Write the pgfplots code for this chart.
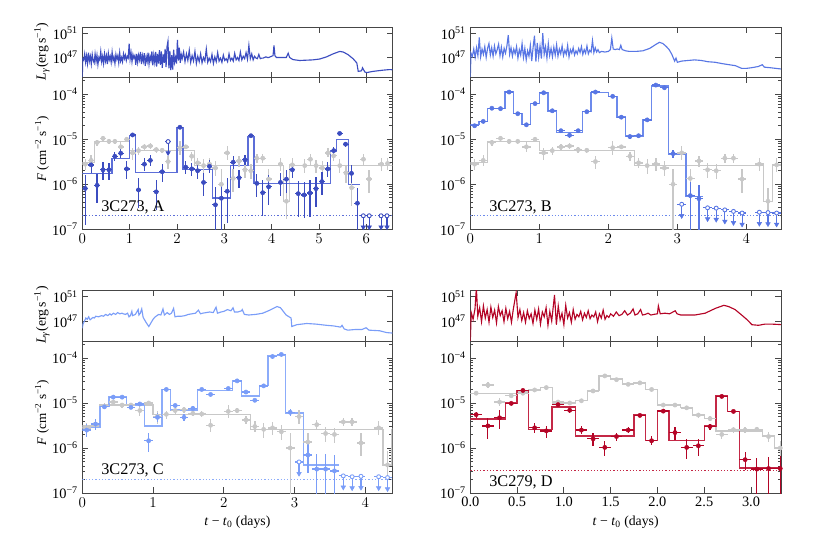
\documentclass[border=0pt]{standalone}
\usepackage{fontspec}
\setmainfont{Liberation Serif}
\usepackage{pgfplots}
\pgfplotsset{compat=1.18}
\usepackage{pgfplotstable}

\definecolor{cA}{RGB}{59,76,192}
\definecolor{cB}{RGB}{88,118,228}
\definecolor{cC}{RGB}{122,157,248}
\definecolor{cD}{RGB}{180,4,38}
\definecolor{sA}{RGB}{92,110,216}
\definecolor{sB}{RGB}{108,138,236}
\definecolor{sC}{RGB}{140,172,250}
\definecolor{sD}{RGB}{196,40,70}
\definecolor{cg}{RGB}{200,200,200}
\definecolor{fr}{RGB}{70,70,70}

\pgfplotstableread{
t F l h
0.0625 2.8e-6 0.25 0.3
0.1875 3.4e-6 0.25 0.3
0.3125 8.5e-6 0.15 0.15
0.4375 1.05e-5 0.12 0.12
0.5625 9.0e-6 0.12 0.12
0.6875 9.0e-6 0.12 0.12
0.8125 6.8e-6 0.25 0.3
0.9375 1.0e-5 0.12 0.12
1.0625 5.0e-6 0.3 0.3
1.1875 5.6e-6 0.2 0.2
1.3125 6.8e-6 0.15 0.15
1.4375 7.1e-6 0.15 0.15
1.5625 5.9e-6 0.15 0.15
1.6875 5.7e-6 0.15 0.15
1.8125 3.2e-6 0.3 0.35
2.0625 6.5e-6 0.3 0.4
2.1875 6.8e-6 0.12 0.12
2.3125 4.2e-6 0.2 0.25
2.4375 3.0e-6 0.25 0.3
2.5625 2.6e-6 0.35 0.4
2.6875 2.8e-6 0.3 0.35
2.8125 2.3e-6 0.35 0.4
2.9375 1.0e-6 0.97 1.2
3.0625 5.0e-6 0.3 0.4
3.1875 1.35e-6 0.5 0.6
3.3125 3.3e-6 0.25 0.3
3.4375 2.1e-6 0.35 0.4
3.5625 2.0e-6 0.35 0.4
3.6875 3.8e-6 0.2 0.25
3.8125 3.8e-6 0.2 0.25
3.9375 1.3e-6 0.5 0.7
4.1875 2.8e-6 0.3 0.4
4.3125 4.2e-7 0.6 1.0
4.4375 2.7e-6 0.3 0.4
}\grayQ
\pgfplotstableread{
t F l h
4.70 2.6e-6 0.3 0.4
4.82 3.6e-6 0.25 0.3
4.94 2.6e-6 0.3 0.35
5.07 2.3e-6 0.35 0.4
5.19 5.0e-6 0.2 0.25
5.31 4.3e-6 0.25 0.3
5.44 2.6e-6 0.3 0.4
5.57 1.8e-6 0.4 0.5
5.69 8.4e-7 0.6 0.8
5.94 3.6e-6 0.25 0.3
6.06 1.3e-6 0.5 0.6
6.32 2.8e-6 0.3 0.35
6.45 2.9e-6 0.3 0.35
}\grayQext
\pgfplotstableread{
t F
0 3.1e-6
0.25 9.0e-6
1.0 5.6e-6
2.375 2.6e-6
4.25 4.2e-7
4.375 2.6e-6
6.6 2.6e-6
}\grayQstep

\pgfplotstableread{
t F l h
0.0625 8.1e-7 0.85 1.0
0.1875 2.7e-6 0.35 0.4
0.3125 9.5e-7 0.6 0.8
0.4375 2.1e-6 0.4 0.5
0.5625 2.1e-6 0.4 0.45
0.6875 4.2e-6 0.2 0.25
0.8125 4.9e-6 0.2 0.25
0.9375 2.2e-6 0.4 0.5
1.0625 1.25e-5 0.1 0.1
1.1875 7.5e-7 0.6 0.8
1.3125 2.8e-6 0.3 0.35
1.4375 3.4e-6 0.25 0.3
1.5625 6.8e-7 0.6 0.8
1.6875 1.9e-6 0.4 0.5
2.0625 1.85e-5 0.08 0.08
2.1875 2.4e-6 0.3 0.35
2.3125 2.2e-6 0.3 0.35
2.4375 2.0e-6 0.35 0.4
2.5625 1.1e-6 0.5 0.6
2.6875 2.5e-6 0.3 0.4
2.8125 3.5e-7 0.9 1.5
2.9375 4.9e-7 0.9 1.2
3.0625 7.0e-7 0.8 1.0
3.1875 3.1e-6 0.3 0.35
3.3125 1.4e-6 0.4 0.5
3.4375 3.5e-6 0.25 0.3
3.5625 1.2e-5 0.08 0.08
3.6875 1.05e-6 0.5 0.6
3.8125 6.5e-7 0.7 0.9
3.9375 8.8e-7 0.6 0.8
4.1875 1.1e-6 0.5 0.6
4.3125 1.3e-6 0.5 0.6
4.4375 2.1e-6 0.35 0.4
4.5625 6.2e-7 0.7 0.9
4.6875 5.8e-7 0.7 0.9
4.8125 6.4e-7 0.7 0.9
4.9375 8.0e-7 0.6 0.8
5.0625 1.15e-6 0.5 0.6
5.1875 2.2e-6 0.35 0.4
5.3125 5.6e-6 0.2 0.2
5.4375 1.35e-5 0.08 0.08
5.5625 7.8e-6 0.12 0.12
5.6875 1.75e-6 0.4 0.5
5.8125 3.8e-7 0.9 1.2
}\ptsA
\pgfplotstableread{
t F a
1.8125 8.9e-6 5.0e-6
5.9375 2.0e-7 1.12e-7
6.0625 2.0e-7 1.12e-7
6.3125 2.0e-7 1.12e-7
6.4375 2.0e-7 1.12e-7
}\ulA
\pgfplotstableread{
t F
0 1.75e-6
0.625 3.7e-6
1.0 1.2e-5
1.125 1.85e-6
2.0 1.85e-5
2.125 2.1e-6
2.75 5.0e-7
3.125 2.6e-6
3.5 1.15e-5
3.625 1.03e-6
5.25 5.5e-6
5.375 1.0e-5
5.625 1.0e-6
5.875 1.0e-6
}\stepA
\pgfplotstableread{
t L
0.000 43.7
0.010 46.8
0.030 46.6
0.050 47.6
0.070 46.2
0.090 47.3
0.110 46.0
0.130 47.8
0.150 46.4
0.170 47.2
0.190 45.9
0.210 47.5
0.230 46.5
0.250 46.1
0.270 47.6
0.290 46.3
0.310 47.4
0.330 45.8
0.350 47.0
0.370 46.6
0.390 48.0
0.410 46.3
0.430 47.2
0.450 46.0
0.470 47.6
0.490 46.4
0.510 47.3
0.530 45.9
0.550 47.7
0.570 46.6
0.590 47.2
0.610 46.2
0.630 47.9
0.650 46.5
0.670 47.1
0.690 46.0
0.710 47.5
0.730 46.7
0.750 47.3
0.770 46.1
0.790 47.8
0.810 46.4
0.830 47.0
0.850 46.3
0.870 47.6
0.890 46.8
0.910 47.4
0.930 46.5
0.950 47.2
0.970 46.9
0.990 49.3
1.010 46.7
1.030 47.8
1.050 46.3
1.070 47.5
1.090 46.9
1.110 47.3
1.130 45.8
1.150 47.6
1.170 46.2
1.190 47.4
1.210 46.6
1.230 47.9
1.250 45.9
1.270 47.3
1.290 46.4
1.310 47.7
1.330 45.6
1.350 47.1
1.370 46.3
1.390 47.8
1.410 45.9
1.430 47.2
1.450 46.5
1.470 48.0
1.490 45.7
1.510 47.4
1.530 46.2
1.550 47.9
1.570 45.5
1.590 47.6
1.610 46.0
1.630 48.2
1.650 45.8
1.670 48.0
1.690 45.3
1.710 47.5
1.730 46.1
1.750 48.4
1.770 45.4
1.790 48.8
1.810 49.7
1.830 45.2
1.850 48.1
1.870 44.9
1.890 47.4
1.910 45.0
1.930 48.3
1.950 46.2
1.970 47.0
1.990 46.0
2.010 49.9
2.030 46.5
2.050 48.6
2.070 46.1
2.090 47.5
2.11 46.8
2.14 47.9
2.17 46.3
2.20 47.6
2.23 46.5
2.26 48.2
2.29 46.2
2.32 47.3
2.35 46.4
2.38 48.0
2.41 46.0
2.44 47.2
2.47 46.3
2.50 47.6
2.53 46.1
2.56 47.0
2.59 46.4
2.62 48.4
2.65 46.2
2.68 46.9
2.71 46.3
2.74 47.5
2.77 46.0
2.80 47.1
2.83 46.3
2.86 47.8
2.89 46.4
2.92 46.9
2.95 46.2
2.98 47.4
3.01 46.5
3.04 46.8
3.07 46.3
3.10 47.6
3.13 46.5
3.16 46.9
3.19 46.4
3.22 47.7
3.25 46.6
3.28 47.0
3.31 46.5
3.34 47.9
3.37 46.6
3.40 47.2
3.43 46.8
3.46 47.8
3.49 46.7
3.52 49.0
3.55 46.8
3.58 47.6
3.61 46.6
3.64 47.2
3.67 46.9
3.70 46.8
3.73 47.5
3.76 46.8
3.79 46.9
3.82 46.9
3.85 47.0
3.88 47.1
3.91 47.0
3.94 47.0
3.97 47.1
4.00 47.2
4.03 47.3
4.05 49.0
4.07 47.3
4.10 47.0
4.31 47.0
4.35 47.7
4.38 47.0
4.45 46.65
4.59 46.5
4.87 46.6
5.02 46.75
5.16 47.1
5.30 47.6
5.44 48.0
5.51 47.9
5.61 47.5
5.72 46.8
5.80 46.1
5.83 44.7
5.90 44.8
5.92 45.3
5.97 44.6
6.01 44.5
6.14 44.7
6.35 44.9
6.49 45.0
6.60 44.95
}\LA

\pgfplotstableread{
t F l h
0.0625 2.0e-5 0.08 0.08
0.1875 2.5e-5 0.08 0.08
0.3125 4.9e-5 0.06 0.06
0.4375 4.8e-5 0.06 0.06
0.5625 1.12e-4 0.05 0.05
0.6875 3.7e-5 0.07 0.07
0.8125 2.1e-5 0.08 0.08
0.9375 6.2e-5 0.06 0.06
1.0625 1.08e-4 0.05 0.05
1.1875 4.3e-5 0.07 0.07
1.3125 1.55e-5 0.1 0.1
1.4375 1.23e-5 0.12 0.12
1.5625 1.55e-5 0.1 0.1
1.6875 4.1e-5 0.07 0.07
1.8125 1.12e-4 0.05 0.05
2.0625 9.0e-5 0.05 0.05
2.1875 3.1e-5 0.07 0.07
2.3125 1.15e-5 0.1 0.1
2.4375 1.2e-5 0.1 0.1
2.5625 2.7e-5 0.08 0.08
2.6875 1.6e-4 0.05 0.05
2.8125 1.4e-4 0.05 0.05
2.9375 4.8e-6 0.2 0.2
3.1875 5.6e-7 0.85 1.0
3.3125 4.8e-7 0.85 1.0
}\ptsB
\pgfplotstableread{
t F a
3.0625 3.6e-7 2.0e-7
3.4375 3.0e-7 1.7e-7
3.5625 2.95e-7 1.65e-7
3.6875 2.7e-7 1.5e-7
3.8125 2.5e-7 1.4e-7
3.9375 2.3e-7 1.29e-7
4.1875 2.4e-7 1.34e-7
4.3125 2.35e-7 1.32e-7
4.4375 2.3e-7 1.29e-7
}\ulB
\pgfplotstableread{
t F
0 2.1e-5
0.125 2.5e-5
0.25 4.9e-5
0.5 1.12e-4
0.625 3.8e-5
0.75 2.1e-5
0.875 6.2e-5
1.0 1.06e-4
1.125 4.2e-5
1.25 1.4e-5
1.625 4.1e-5
1.75 1.08e-4
2.0 9.0e-5
2.125 3.1e-5
2.25 1.18e-5
2.5 2.7e-5
2.625 1.52e-4
2.875 4.7e-6
3.125 5.4e-7
3.375 5.4e-7
}\stepB
\pgfplotstableread{
t L
0.000 43.7
0.010 47.7
0.030 47.2
0.050 48.4
0.070 47.0
0.090 48.6
0.110 47.3
0.130 50.3
0.150 47.1
0.170 48.4
0.190 47.5
0.210 48.8
0.230 47.0
0.250 48.5
0.270 49.3
0.290 47.4
0.310 48.6
0.330 47.2
0.350 48.9
0.370 47.6
0.390 48.3
0.410 49.2
0.430 47.3
0.450 48.7
0.470 47.1
0.490 48.5
0.510 47.7
0.530 48.9
0.550 50.7
0.570 47.5
0.590 48.6
0.610 47.2
0.630 48.4
0.650 47.6
0.670 48.8
0.690 46.9
0.710 48.3
0.730 47.4
0.750 49.3
0.770 47.0
0.790 48.5
0.810 46.6
0.830 48.1
0.850 47.2
0.870 49.0
0.890 46.4
0.910 48.7
0.930 50.6
0.950 46.3
0.970 49.4
0.990 47.0
1.010 48.9
1.030 46.8
1.050 51.0
1.070 47.5
1.090 48.8
1.110 46.9
1.130 49.3
1.150 47.3
1.170 48.5
1.190 47.1
1.210 48.7
1.230 47.4
1.250 49.1
1.270 47.2
1.290 48.4
1.310 47.6
1.330 48.9
1.350 47.3
1.370 48.2
1.390 47.5
1.410 49.0
1.430 47.1
1.450 48.3
1.470 47.7
1.490 48.6
1.510 47.4
1.530 48.1
1.550 47.6
1.570 48.5
1.590 47.8
1.610 48.8
1.630 47.5
1.650 48.3
1.670 47.7
1.690 48.9
1.710 47.6
1.730 48.2
1.750 47.9
1.770 49.8
1.790 47.8
1.810 48.6
1.830 47.9
1.850 48.3
1.870 47.8
1.900 48.0
1.950 47.9
2.000 48.0
2.030 48.3
2.050 50.2
2.070 48.4
2.100 48.3
2.130 48.4
2.160 48.3
2.180 49.0
2.200 48.3
2.250 48.1
2.300 48.0
2.400 48.0
2.500 48.1
2.600 48.5
2.680 49.1
2.740 49.5
2.790 49.3
2.840 48.8
2.880 48.3
2.920 47.5
2.960 46.4
2.980 46.9
3.000 46.2
3.060 46.4
3.150 46.5
3.250 46.6
3.350 46.5
3.440 46.3
3.550 46.2
3.640 46.0
3.750 45.8
3.840 45.65
3.930 45.2
4.000 45.2
4.070 45.3
4.170 45.5
4.230 45.8
4.260 45.4
4.350 45.3
4.500 45.1
}\LB

\pgfplotstableread{
t F l h
0.0625 2.5e-6 0.3 0.35
0.1875 3.4e-6 0.25 0.3
0.3125 8.2e-6 0.1 0.1
0.4375 1.35e-5 0.08 0.08
0.5625 1.35e-5 0.08 0.08
0.6875 8.0e-6 0.1 0.1
0.8125 9.5e-6 0.1 0.1
0.9375 1.45e-6 0.45 0.5
1.0625 4.8e-6 0.2 0.25
1.1875 2.0e-5 0.07 0.07
1.3125 8.8e-6 0.1 0.1
1.4375 4.8e-6 0.15 0.2
1.5625 7.6e-6 0.1 0.1
1.6875 2.0e-5 0.07 0.07
1.8125 1.55e-5 0.08 0.08
2.0625 2.1e-5 0.07 0.07
2.1875 3.1e-5 0.06 0.06
2.3125 1.75e-5 0.07 0.07
2.4375 1.15e-5 0.08 0.08
2.5625 2.4e-5 0.07 0.07
2.6875 1.08e-4 0.05 0.05
2.8125 1.2e-4 0.05 0.05
2.9375 6.2e-6 0.15 0.2
3.1875 7.0e-7 0.6 0.8
3.3125 3.4e-7 0.9 1.2
3.4375 3.4e-7 0.9 1.2
3.5625 3.1e-7 0.9 1.2
}\ptsC
\pgfplotstableread{
t F a
3.0625 4.9e-7 2.7e-7
3.6875 2.4e-7 1.34e-7
3.8125 2.3e-7 1.29e-7
3.9375 2.35e-7 1.32e-7
4.1875 2.3e-7 1.29e-7
4.3125 2.2e-7 1.23e-7
}\ulC
\pgfplotstableread{
t F
0 2.9e-6
0.25 8.4e-6
0.375 1.35e-5
0.625 8.8e-6
0.875 3.1e-6
1.125 2.0e-5
1.25 7.0e-6
1.625 1.9e-5
2.125 3.1e-5
2.25 1.42e-5
2.5 2.45e-5
2.625 1.15e-4
2.875 6.0e-6
3.125 4.2e-7
3.625 4.2e-7
}\stepC
\pgfplotstableread{
t L
0.000 45.8
0.010 46.5
0.030 47.0
0.050 47.5
0.070 47.3
0.090 47.7
0.110 47.2
0.130 47.4
0.150 47.6
0.170 47.5
0.190 47.8
0.230 47.7
0.270 47.9
0.300 47.8
0.330 48.1
0.360 47.9
0.390 48.2
0.410 48.0
0.440 48.3
0.470 48.1
0.500 48.4
0.530 48.2
0.560 48.3
0.580 48.2
0.610 48.1
0.640 48.3
0.660 47.7
0.680 47.9
0.700 48.6
0.710 47.9
0.750 48.1
0.790 48.9
0.800 48.0
0.820 48.3
0.840 49.0
0.860 47.6
0.900 46.8
0.940 46.1
0.970 46.7
1.000 47.3
1.030 47.7
1.080 48.1
1.110 48.0
1.140 49.0
1.160 48.0
1.200 48.4
1.230 48.1
1.260 48.3
1.290 49.1
1.310 47.7
1.350 47.8
1.400 47.8
1.450 47.9
1.500 48.1
1.550 48.2
1.600 48.3
1.640 48.8
1.670 48.2
1.700 48.3
1.750 48.4
1.800 48.5
1.850 48.4
1.890 49.3
1.910 48.3
1.960 48.5
2.000 48.6
2.050 48.9
2.100 48.7
2.130 49.2
2.150 48.5
2.200 48.5
2.250 48.7
2.260 48.9
2.290 48.1
2.350 48.0
2.450 48.1
2.550 48.3
2.650 48.8
2.750 49.4
2.800 49.2
2.880 48.0
2.950 47.5
2.960 46.1
3.030 46.4
3.170 46.6
3.300 46.5
3.450 46.3
3.550 46.2
3.650 46.0
3.670 46.3
3.700 45.7
3.750 45.5
3.850 45.6
3.950 45.6
4.010 45.9
4.050 45.5
4.200 45.4
4.300 45.1
4.400 45.0
}\LC

\pgfplotstableread{
t F l h
0.0625 1.65e-5 0.1 0.1
0.1875 2.5e-5 0.12 0.15
0.3125 1.05e-5 0.2 0.2
0.4375 1.45e-5 0.1 0.1
0.5625 1.65e-5 0.1 0.1
0.6875 1.95e-5 0.1 0.1
0.8125 2.2e-5 0.1 0.1
0.9375 1.05e-5 0.1 0.1
1.0625 1.0e-5 0.1 0.1
1.1875 1.12e-5 0.1 0.1
1.3125 1.85e-5 0.08 0.08
1.4375 4.0e-5 0.06 0.06
1.5625 3.3e-5 0.06 0.06
1.6875 2.6e-5 0.07 0.07
1.8125 2.8e-5 0.07 0.07
1.9375 2.0e-5 0.08 0.08
2.0625 9.0e-6 0.1 0.1
2.1875 9.0e-6 0.1 0.1
2.3125 7.8e-6 0.1 0.1
2.4375 5.4e-6 0.12 0.12
2.5625 4.5e-6 0.12 0.12
2.6875 2.0e-6 0.2 0.2
2.8125 2.55e-6 0.15 0.15
2.9375 2.5e-6 0.15 0.15
3.0625 2.6e-6 0.15 0.15
3.1875 1.8e-6 0.25 0.25
3.3125 1.0e-6 0.4 0.4
}\grayD
\pgfplotstableread{
t F
0 1.65e-5
0.5 1.75e-5
0.625 1.95e-5
0.75 2.2e-5
0.875 1.0e-5
1.125 1.15e-5
1.25 1.9e-5
1.375 4.0e-5
1.5 3.4e-5
1.625 2.7e-5
1.75 2.85e-5
1.875 2.0e-5
2.0 9.0e-6
2.25 7.9e-6
2.375 5.4e-6
2.5 4.6e-6
2.625 2.4e-6
3.125 1.85e-6
3.25 1.0e-6
3.34 1.0e-6
}\grayDstep
\pgfplotstableread{
t F l h
0.0625 5.5e-6 0.15 0.15
0.1875 3.1e-6 0.5 0.5
0.3125 4.7e-6 0.45 0.5
0.4375 9.8e-6 0.1 0.1
0.5625 1.9e-5 0.07 0.07
0.6875 2.8e-6 0.25 0.3
0.8125 2.4e-6 0.3 0.3
0.9375 9.2e-6 0.1 0.1
1.0625 6.9e-6 0.15 0.15
1.1875 2.5e-6 0.2 0.25
1.3125 1.6e-6 0.3 0.35
1.4375 1.03e-6 0.35 0.4
1.5625 1.8e-6 0.2 0.2
1.6875 2.5e-6 0.15 0.15
1.8125 5.3e-6 0.1 0.1
1.9375 1.45e-6 0.2 0.25
2.0625 6.6e-6 0.1 0.1
2.1875 2.2e-6 0.3 0.35
2.3125 1.03e-6 0.45 0.5
2.4375 1.12e-6 0.4 0.45
2.5625 3.0e-6 0.15 0.15
2.6875 1.4e-5 0.07 0.07
2.8125 6.5e-6 0.1 0.1
2.9375 5.5e-7 0.4 0.5
3.0625 3.4e-7 0.9 0.8
3.1875 3.5e-7 0.9 0.8
3.3125 3.5e-7 0.9 0.9
}\ptsD
\pgfplotstableread{
t F
0 4.4e-6
0.375 1.0e-5
0.5 1.9e-5
0.625 2.6e-6
0.875 8.1e-6
1.125 1.85e-6
1.75 5.4e-6
1.875 1.47e-6
2.0 6.9e-6
2.125 1.45e-6
2.5 3.1e-6
2.625 1.45e-5
2.75 6.5e-6
2.875 3.6e-7
3.34 3.6e-7
}\stepD
\pgfplotstableread{
t L
0.000 43.7
0.010 48.4
0.030 47.3
0.050 49.0
0.065 52.5
0.080 47.8
0.100 49.2
0.120 46.9
0.140 49.5
0.160 47.5
0.180 48.9
0.200 46.8
0.220 49.3
0.240 47.6
0.260 48.8
0.280 46.7
0.300 49.4
0.320 47.9
0.340 48.7
0.360 46.9
0.380 49.1
0.400 47.4
0.420 48.6
0.440 46.8
0.460 49.0
0.490 51.7
0.510 47.6
0.530 48.9
0.550 47.1
0.570 48.4
0.590 46.8
0.610 48.7
0.630 47.4
0.650 48.2
0.670 46.6
0.690 48.8
0.710 47.3
0.730 49.0
0.750 46.5
0.770 48.5
0.790 47.7
0.810 49.2
0.830 46.3
0.850 48.6
0.870 47.0
0.900 51.3
0.920 46.4
0.940 49.5
0.960 47.2
0.980 48.3
1.000 46.4
1.020 49.6
1.040 47.5
1.060 48.4
1.080 46.8
1.100 48.9
1.120 47.3
1.140 48.1
1.160 47.7
1.180 48.6
1.200 47.2
1.220 48.3
1.240 47.6
1.260 48.7
1.280 47.4
1.300 48.0
1.320 47.7
1.340 48.5
1.360 46.9
1.380 48.2
1.400 47.5
1.420 48.8
1.440 47.3
1.460 47.9
1.480 47.6
1.500 48.2
1.530 47.8
1.560 48.5
1.590 47.9
1.620 48.1
1.650 48.7
1.680 48.0
1.710 48.3
1.740 49.0
1.760 48.0
1.790 48.2
1.820 48.9
1.840 48.0
1.870 48.1
1.900 48.3
1.930 48.0
1.960 48.1
2.000 48.2
2.010 49.5
2.030 48.2
2.080 48.3
2.130 48.2
2.190 48.7
2.210 48.2
2.250 48.0
2.400 48.0
2.510 48.3
2.620 49.1
2.710 49.6
2.760 49.4
2.830 48.9
2.900 48.0
2.960 47.2
3.010 46.4
3.080 46.3
3.150 46.5
3.220 46.5
3.340 46.4
}\LD

\begin{document}
\begin{tikzpicture}
\path[use as bounding box] (0,0) rectangle (657.6pt,438.4pt);

% ===== Panel A top =====
\begin{axis}[at={(65.84pt,376.24pt)}, anchor=south west, scale only axis, width=248pt, height=40.4pt,
  xmin=0, xmax=6.55, xtick={0,1,2,3,4,5,6}, xticklabel=\empty,
  ymin=43.66, ymax=52, ytick={47,51}, yticklabels={10\textsuperscript{47},10\textsuperscript{51}},
  tick align=inside, xtick pos=both, ytick pos=both,
  axis line style={draw=fr, line width=0.6pt}, tick style={draw=fr, line width=0.6pt},
  major tick length=4.5pt, tick label style={font=\fontsize{11.5}{13}\selectfont},
  ylabel={\fontsize{11}{13}\selectfont\textit{L}\textsubscript{\textit{γ}}(erg\,s\textsuperscript{−1})},
  ylabel style={at={(rel axis cs:-0.13,0.52)}, anchor=center}]
\addplot[color=cA, line width=0.9pt] table[x=t,y=L] {\LA};
\end{axis}
% ===== Panel A bottom =====
\begin{axis}[at={(65.84pt,254.96pt)}, anchor=south west, scale only axis, width=248pt, height=121.3pt,
  xmin=0, xmax=6.55, xtick={0,1,2,3,4,5,6},
  ymode=log, ymin=1e-7, ymax=2.34e-4, ytick={1e-7,1e-6,1e-5,1e-4},
  yticklabels={10\textsuperscript{−7},10\textsuperscript{−6},10\textsuperscript{−5},10\textsuperscript{−4}},
  minor ytick={2e-7,3e-7,4e-7,5e-7,6e-7,7e-7,8e-7,9e-7,2e-6,3e-6,4e-6,5e-6,6e-6,7e-6,8e-6,9e-6,2e-5,3e-5,4e-5,5e-5,6e-5,7e-5,8e-5,9e-5,2e-4},
  tick align=inside, xtick pos=both, ytick pos=both,
  axis line style={draw=fr, line width=0.6pt}, tick style={draw=fr, line width=0.6pt},
  major tick length=4.5pt, minor tick length=2.4pt, tick label style={font=\fontsize{11.5}{13}\selectfont},
  ylabel={\fontsize{10.5}{12}\selectfont\textit{F} (cm\textsuperscript{−2} s\textsuperscript{−1})},
  ylabel style={at={(rel axis cs:-0.13,0.53)}, anchor=center}]
\addplot[color=cg, line width=1pt, const plot] table[x=t,y=F] {\grayQstep};
\addplot[color=sA, line width=1.1pt, const plot] table[x=t,y=F] {\stepA};
\addplot[color=sA, line width=1.1pt, dash pattern=on 1pt off 1.6pt] coordinates {(0,2e-7) (6.6,2e-7)};
\addplot[only marks, mark=*, mark size=1.7pt, color=cg, error bars/.cd, x dir=both, x fixed=0.0625, y dir=both, y explicit, error mark=none, error bar style={line width=1.1pt, color=cg}] table[x=t,y=F,y error minus expr=\thisrow{F}*\thisrow{l},y error plus expr=\thisrow{F}*\thisrow{h}] {\grayQ};
\addplot[only marks, mark=*, mark size=1.7pt, color=cg, error bars/.cd, x dir=both, x fixed=0.0625, y dir=both, y explicit, error mark=none, error bar style={line width=1.1pt, color=cg}] table[x=t,y=F,y error minus expr=\thisrow{F}*\thisrow{l},y error plus expr=\thisrow{F}*\thisrow{h}] {\grayQext};
\addplot[only marks, mark=*, mark size=1.7pt, color=cA, error bars/.cd, x dir=both, x fixed=0.0625, y dir=both, y explicit, error mark=none, error bar style={line width=1pt, color=cA}] table[x=t,y=F,y error minus expr=\thisrow{F}*\thisrow{l},y error plus expr=\thisrow{F}*\thisrow{h}] {\ptsA};
\addplot[only marks, mark=*, mark size=1.6pt, color=cA, mark options={fill=white, draw=cA, line width=0.7pt}, error bars/.cd, x dir=both, x fixed=0.0625, y dir=minus, y explicit, error mark=none, error bar style={line width=0.9pt, color=cA}] table[x=t,y=F,y error minus expr=\thisrow{F}-\thisrow{a}] {\ulA};
\addplot[only marks, mark=triangle*, mark size=2.1pt, color=cA, mark options={rotate=180, fill=cA, draw=cA}] table[x=t,y=a] {\ulA};
\node[anchor=base west, font=\fontsize{13}{15}\selectfont] at (rel axis cs:0.047,0.116) {3C273, A};
\end{axis}

% ===== Panel B top =====
\begin{axis}[at={(376.24pt,376.24pt)}, anchor=south west, scale only axis, width=248.5pt, height=40.4pt,
  xmin=0, xmax=4.5, xtick={0,1,2,3,4}, xticklabel=\empty,
  ymin=43.66, ymax=52, ytick={47,51}, yticklabels={10\textsuperscript{47},10\textsuperscript{51}},
  tick align=inside, xtick pos=both, ytick pos=both,
  axis line style={draw=fr, line width=0.6pt}, tick style={draw=fr, line width=0.6pt},
  major tick length=4.5pt, tick label style={font=\fontsize{11.5}{13}\selectfont}]
\addplot[color=cB, line width=0.9pt] table[x=t,y=L] {\LB};
\end{axis}
% ===== Panel B bottom =====
\begin{axis}[at={(376.24pt,254.96pt)}, anchor=south west, scale only axis, width=248.5pt, height=121.3pt,
  xmin=0, xmax=4.5, xtick={0,1,2,3,4},
  ymode=log, ymin=1e-7, ymax=2.34e-4, ytick={1e-7,1e-6,1e-5,1e-4},
  yticklabels={10\textsuperscript{−7},10\textsuperscript{−6},10\textsuperscript{−5},10\textsuperscript{−4}},
  minor ytick={2e-7,3e-7,4e-7,5e-7,6e-7,7e-7,8e-7,9e-7,2e-6,3e-6,4e-6,5e-6,6e-6,7e-6,8e-6,9e-6,2e-5,3e-5,4e-5,5e-5,6e-5,7e-5,8e-5,9e-5,2e-4},
  tick align=inside, xtick pos=both, ytick pos=both,
  axis line style={draw=fr, line width=0.6pt}, tick style={draw=fr, line width=0.6pt},
  major tick length=4.5pt, minor tick length=2.4pt, tick label style={font=\fontsize{11.5}{13}\selectfont}]
\addplot[color=cg, line width=1pt, const plot] table[x=t,y=F] {\grayQstep};
\addplot[color=sB, line width=1.1pt, const plot] table[x=t,y=F] {\stepB};
\addplot[color=sB, line width=1.1pt, dash pattern=on 1pt off 1.6pt] coordinates {(0,2e-7) (4.5,2e-7)};
\addplot[only marks, mark=*, mark size=1.7pt, color=cg, error bars/.cd, x dir=both, x fixed=0.0625, y dir=both, y explicit, error mark=none, error bar style={line width=1.1pt, color=cg}] table[x=t,y=F,y error minus expr=\thisrow{F}*\thisrow{l},y error plus expr=\thisrow{F}*\thisrow{h}] {\grayQ};
\addplot[only marks, mark=*, mark size=1.7pt, color=cB, error bars/.cd, x dir=both, x fixed=0.0625, y dir=both, y explicit, error mark=none, error bar style={line width=1pt, color=cB}] table[x=t,y=F,y error minus expr=\thisrow{F}*\thisrow{l},y error plus expr=\thisrow{F}*\thisrow{h}] {\ptsB};
\addplot[only marks, mark=*, mark size=1.6pt, color=cB, mark options={fill=white, draw=cB, line width=0.7pt}, error bars/.cd, x dir=both, x fixed=0.0625, y dir=minus, y explicit, error mark=none, error bar style={line width=0.9pt, color=cB}] table[x=t,y=F,y error minus expr=\thisrow{F}-\thisrow{a}] {\ulB};
\addplot[only marks, mark=triangle*, mark size=2.1pt, color=cB, mark options={rotate=180, fill=cB, draw=cB}] table[x=t,y=a] {\ulB};
\node[anchor=base west, font=\fontsize{13}{15}\selectfont] at (rel axis cs:0.047,0.116) {3C273, B};
\end{axis}

% ===== Panel C top =====
\begin{axis}[at={(65.84pt,165.36pt)}, anchor=south west, scale only axis, width=248pt, height=40.4pt,
  xmin=0, xmax=4.38, xtick={0,1,2,3,4}, xticklabel=\empty,
  ymin=43.66, ymax=52, ytick={47,51}, yticklabels={10\textsuperscript{47},10\textsuperscript{51}},
  tick align=inside, xtick pos=both, ytick pos=both,
  axis line style={draw=fr, line width=0.6pt}, tick style={draw=fr, line width=0.6pt},
  major tick length=4.5pt, tick label style={font=\fontsize{11.5}{13}\selectfont},
  ylabel={\fontsize{11}{13}\selectfont\textit{L}\textsubscript{\textit{γ}}(erg\,s\textsuperscript{−1})},
  ylabel style={at={(rel axis cs:-0.13,0.52)}, anchor=center}]
\addplot[color=cC, line width=0.9pt] table[x=t,y=L] {\LC};
\end{axis}
% ===== Panel C bottom =====
\begin{axis}[at={(65.84pt,44pt)}, anchor=south west, scale only axis, width=248pt, height=121.3pt,
  xmin=0, xmax=4.38, xtick={0,1,2,3,4},
  ymode=log, ymin=1e-7, ymax=2.34e-4, ytick={1e-7,1e-6,1e-5,1e-4},
  yticklabels={10\textsuperscript{−7},10\textsuperscript{−6},10\textsuperscript{−5},10\textsuperscript{−4}},
  minor ytick={2e-7,3e-7,4e-7,5e-7,6e-7,7e-7,8e-7,9e-7,2e-6,3e-6,4e-6,5e-6,6e-6,7e-6,8e-6,9e-6,2e-5,3e-5,4e-5,5e-5,6e-5,7e-5,8e-5,9e-5,2e-4},
  tick align=inside, xtick pos=both, ytick pos=both,
  axis line style={draw=fr, line width=0.6pt}, tick style={draw=fr, line width=0.6pt},
  major tick length=4.5pt, minor tick length=2.4pt, tick label style={font=\fontsize{11.5}{13}\selectfont},
  ylabel={\fontsize{10.5}{12}\selectfont\textit{F} (cm\textsuperscript{−2} s\textsuperscript{−1})},
  ylabel style={at={(rel axis cs:-0.13,0.53)}, anchor=center},
  xlabel={\fontsize{11}{13}\selectfont\textit{t} − \textit{t}\textsubscript{0} (days)}]
\addplot[color=cg, line width=1pt, const plot] table[x=t,y=F] {\grayQstep};
\addplot[color=sC, line width=1.1pt, const plot] table[x=t,y=F] {\stepC};
\addplot[color=sC, line width=1.1pt, dash pattern=on 1pt off 1.6pt] coordinates {(0,2e-7) (4.4,2e-7)};
\addplot[only marks, mark=*, mark size=1.7pt, color=cg, error bars/.cd, x dir=both, x fixed=0.0625, y dir=both, y explicit, error mark=none, error bar style={line width=1.1pt, color=cg}] table[x=t,y=F,y error minus expr=\thisrow{F}*\thisrow{l},y error plus expr=\thisrow{F}*\thisrow{h}] {\grayQ};
\addplot[only marks, mark=*, mark size=1.7pt, color=cC, error bars/.cd, x dir=both, x fixed=0.0625, y dir=both, y explicit, error mark=none, error bar style={line width=1pt, color=cC}] table[x=t,y=F,y error minus expr=\thisrow{F}*\thisrow{l},y error plus expr=\thisrow{F}*\thisrow{h}] {\ptsC};
\addplot[only marks, mark=*, mark size=1.6pt, color=cC, mark options={fill=white, draw=cC, line width=0.7pt}, error bars/.cd, x dir=both, x fixed=0.0625, y dir=minus, y explicit, error mark=none, error bar style={line width=0.9pt, color=cC}] table[x=t,y=F,y error minus expr=\thisrow{F}-\thisrow{a}] {\ulC};
\addplot[only marks, mark=triangle*, mark size=2.1pt, color=cC, mark options={rotate=180, fill=cC, draw=cC}] table[x=t,y=a] {\ulC};
\node[anchor=base west, font=\fontsize{13}{15}\selectfont] at (rel axis cs:0.047,0.125) {3C273, C};
\end{axis}

% ===== Panel D top =====
\begin{axis}[at={(376.24pt,165.36pt)}, anchor=south west, scale only axis, width=248.5pt, height=40.4pt,
  xmin=0, xmax=3.32, xtick={0,0.5,1,1.5,2,2.5,3}, xticklabel=\empty,
  ymin=43.66, ymax=52, ytick={47,51}, yticklabels={10\textsuperscript{47},10\textsuperscript{51}},
  tick align=inside, xtick pos=both, ytick pos=both,
  axis line style={draw=fr, line width=0.6pt}, tick style={draw=fr, line width=0.6pt},
  major tick length=4.5pt, tick label style={font=\fontsize{11.5}{13}\selectfont}]
\addplot[color=cD, line width=0.9pt] table[x=t,y=L] {\LD};
\end{axis}
% ===== Panel D bottom =====
\begin{axis}[at={(376.24pt,44pt)}, anchor=south west, scale only axis, width=248.5pt, height=121.3pt,
  xmin=0, xmax=3.32, xtick={0,0.5,1,1.5,2,2.5,3},
  xticklabels={0.0,0.5,1.0,1.5,2.0,2.5,3.0},
  ymode=log, ymin=1e-7, ymax=2.34e-4, ytick={1e-7,1e-6,1e-5,1e-4},
  yticklabels={10\textsuperscript{−7},10\textsuperscript{−6},10\textsuperscript{−5},10\textsuperscript{−4}},
  minor ytick={2e-7,3e-7,4e-7,5e-7,6e-7,7e-7,8e-7,9e-7,2e-6,3e-6,4e-6,5e-6,6e-6,7e-6,8e-6,9e-6,2e-5,3e-5,4e-5,5e-5,6e-5,7e-5,8e-5,9e-5,2e-4},
  tick align=inside, xtick pos=both, ytick pos=both,
  axis line style={draw=fr, line width=0.6pt}, tick style={draw=fr, line width=0.6pt},
  major tick length=4.5pt, minor tick length=2.4pt, tick label style={font=\fontsize{11.5}{13}\selectfont},
  xlabel={\fontsize{11}{13}\selectfont\textit{t} − \textit{t}\textsubscript{0} (days)}]
\addplot[color=cg, line width=1pt, const plot] table[x=t,y=F] {\grayDstep};
\addplot[color=sD, line width=1.1pt, const plot] table[x=t,y=F] {\stepD};
\addplot[color=sD, line width=1.1pt, dash pattern=on 1pt off 1.6pt] coordinates {(0,3.2e-7) (3.34,3.2e-7)};
\addplot[only marks, mark=*, mark size=1.7pt, color=cg, error bars/.cd, x dir=both, x fixed=0.0625, y dir=both, y explicit, error mark=none, error bar style={line width=1.1pt, color=cg}] table[x=t,y=F,y error minus expr=\thisrow{F}*\thisrow{l},y error plus expr=\thisrow{F}*\thisrow{h}] {\grayD};
\addplot[only marks, mark=*, mark size=1.7pt, color=cD, error bars/.cd, x dir=both, x fixed=0.0625, y dir=both, y explicit, error mark=none, error bar style={line width=1pt, color=cD}] table[x=t,y=F,y error minus expr=\thisrow{F}*\thisrow{l},y error plus expr=\thisrow{F}*\thisrow{h}] {\ptsD};
\node[anchor=base west, font=\fontsize{13}{15}\selectfont] at (rel axis cs:0.047,0.04) {3C279, D};
\end{axis}
\end{tikzpicture}
\end{document}
